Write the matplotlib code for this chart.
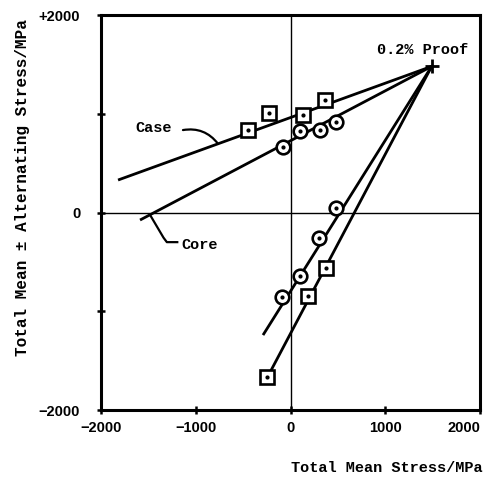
import matplotlib
matplotlib.use('Agg')
import numpy as np
import matplotlib.pyplot as plt


# 0.2% proof point (mean, mean +/- alternating)
proof = (1490, 1480)

# upper branch (max stress) - case squares, core circles
case_hi_x = [-449, -227, 132, 364]
case_hi_y = [835, 1008, 987, 1139]
core_hi_x = [-79, 100, 311, 480]
core_hi_y = [663, 825, 835, 916]

# lower branch (min stress)
core_lo_x = [480, 301, 100, -90]
core_lo_y = [46, -258, -643, -856]
case_lo_x = [375, 185, -250]
case_lo_y = [-562, -846, -1666]

# fitted lines: start point, ending at proof point
case_hi_start = (-1820, 329)
core_hi_start = (-1588, -76)
core_lo_start = (-290, -1241)
case_lo_start = (-248, -1676)

xticks = [-2000, -1000, 0, 1000, 2000]
xticklabels = ['\u22122000', '\u22121000', '0', '1000', '2000']
yticks = [-2000, -1000, 0, 1000, 2000]
yticklabels = ['\u22122000', '', '0', '', '+2000']

label_font = dict(family='Liberation Mono', weight='bold', size=11)
tick_font = dict(family='Liberation Sans', weight='bold', size=10.5)

fig = plt.figure(figsize=(4.91, 4.83), dpi=100)
ax = fig.add_axes([0.2057, 0.1511, 0.7719, 0.8178])

ax.set_xlim(-2000, 2000)
ax.set_ylim(-2000, 2000)

ax.axhline(0, color='black', lw=1.0, zorder=1)
ax.axvline(0, color='black', lw=1.0, zorder=1)

for start in [case_hi_start, core_hi_start, core_lo_start, case_lo_start]:
    ax.plot([start[0], proof[0]], [start[1], proof[1]],
            color='black', lw=2.0, solid_capstyle='butt', zorder=2)

sq = dict(marker='s', ms=9.5, mfc='white', mec='black', mew=1.9,
          ls='none', zorder=3)
ci = dict(marker='o', ms=9.8, mfc='white', mec='black', mew=1.9,
          ls='none', zorder=3)
ax.plot(case_hi_x, case_hi_y, **sq)
ax.plot(case_lo_x, case_lo_y, **sq)
ax.plot(core_hi_x, core_hi_y, **ci)
ax.plot(core_lo_x, core_lo_y, **ci)

# small centre dots seen in the scanned markers
all_x = case_hi_x + case_lo_x + core_hi_x + core_lo_x
all_y = case_hi_y + case_lo_y + core_hi_y + core_lo_y
ax.plot(all_x, all_y, marker='o', ms=2, color='black', ls='none', zorder=4)

ax.plot(proof[0], proof[1], marker='+', ms=10, mew=2.0, color='black',
        zorder=4)
ax.text(913, proof[1] + 170, '0.2% Proof', ha='left',
        va='center', **label_font)

# labels with leaders
ax.text(-1446, 856, 'Case', ha='center', va='center', **label_font)
ax.annotate('', xy=(-765, 696), xytext=(-1135, 835),
            arrowprops=dict(arrowstyle='-', lw=1.6, color='black',
                            connectionstyle='arc3,rad=-0.3',
                            shrinkA=0, shrinkB=0))
ax.text(-955, -329, 'Core', ha='center', va='center', **label_font)
ax.plot([-1483, -1340, -1305, -1195], [-23, -255, -300, -300],
        color='black', lw=1.6, zorder=2)

ax.set_xticks(xticks)
ax.set_xticklabels(xticklabels, **tick_font)
ax.get_xticklabels()[-1].set_horizontalalignment('right')
ax.get_xticklabels()[-1].set_x(2000)
ax.set_yticks(yticks)
ax.set_yticklabels(yticklabels, **tick_font)
ax.tick_params(axis='x', direction='inout', length=6, width=1.8, pad=5)
ax.tick_params(axis='y', direction='inout', length=6, width=1.8, pad=12)

for sp in ax.spines.values():
    sp.set_linewidth(2.2)

fig.text(387 / 491, 1 - 468 / 483, 'Total Mean Stress/MPa', ha='center',
         va='center', **label_font)
fig.text(23 / 491, 1 - 188 / 483, 'Total Mean \u00b1 Alternating Stress/MPa',
         ha='center', va='center', rotation=90,
         family='Liberation Mono', weight='bold', size=11.5)

fig.savefig('out.png', dpi=100)
